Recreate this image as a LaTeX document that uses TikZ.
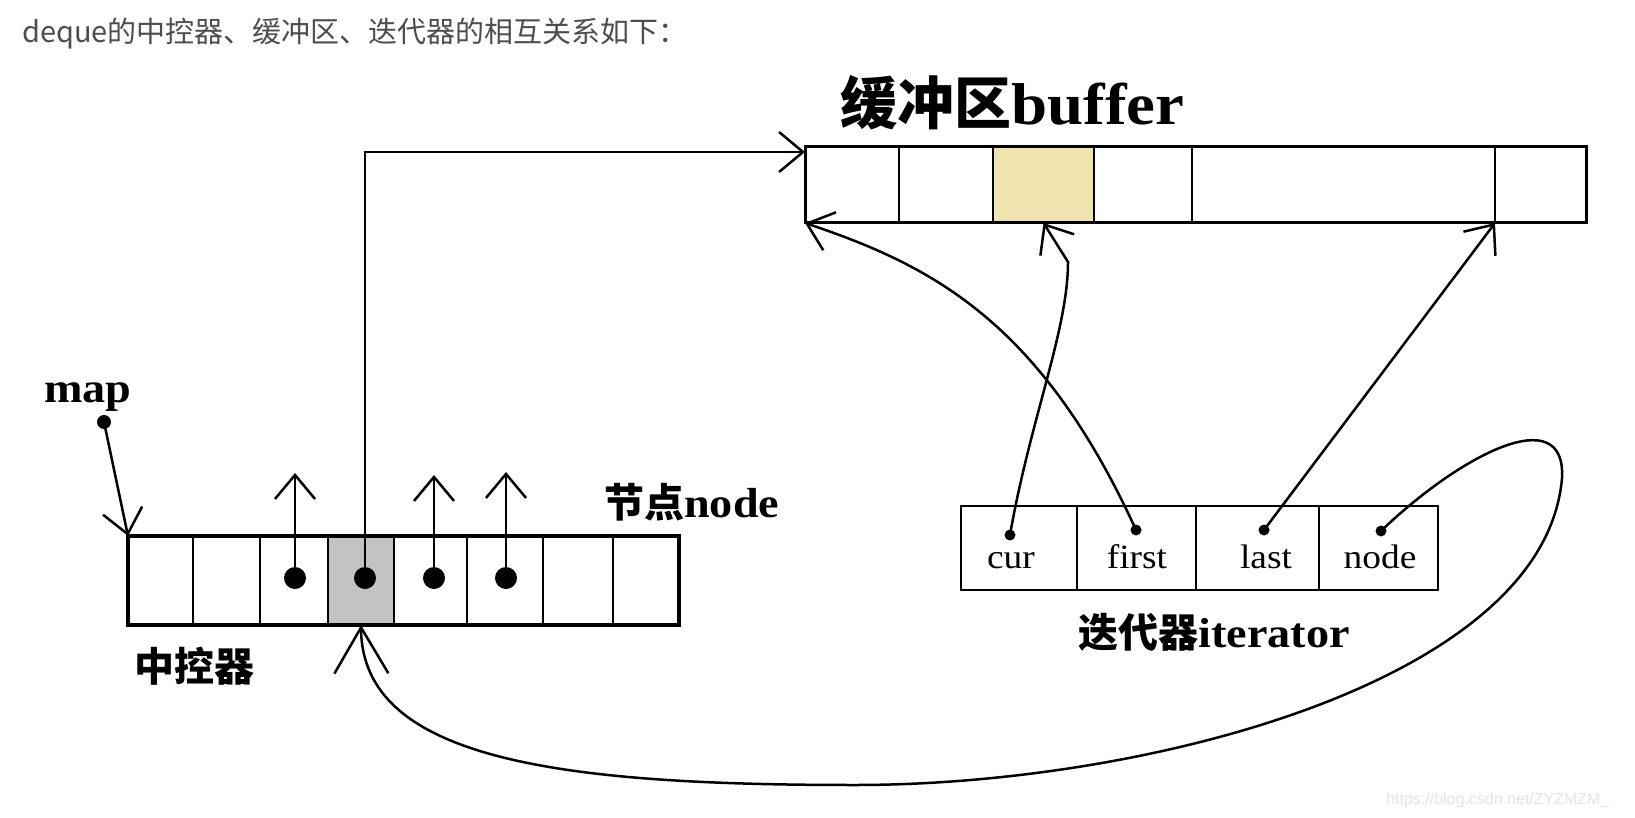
\documentclass[tikz,border=0pt]{standalone}
\usepackage{fontspec}
\setmainfont{Liberation Serif}[FakeStretch=1.1]
\setsansfont{Liberation Sans}
\newfontfamily\cjk{Noto Sans CJK SC}
\usetikzlibrary{arrows.meta}
\definecolor{capgray}{HTML}{C3C3C3}
\definecolor{bufyellow}{HTML}{EFE4B0}
\definecolor{headgray}{HTML}{4D4D4D}
\definecolor{markgray}{HTML}{E4E4E4}
\newcommand{\zh}[2][40]{{\cjk\bfseries\fontsize{#1}{#1}\selectfont #2}}

\begin{document}
\begin{tikzpicture}[
  x=1pt, y=-1pt,
  line width=2.5pt,
  >={Straight Barb[length=24pt,width=40pt]},
  bigarrow/.style={-{Straight Barb[length=46pt,width=54pt]}},
  cell/.style={rectangle, draw=black, line width=2.5pt, inner sep=0pt, outer sep=0pt},
  bigdot/.style={circle, fill=black, inner sep=0pt, minimum size=22pt},
  smalldot/.style={circle, fill=black, inner sep=0pt, minimum size=11pt},
  lbl/.style={inner sep=0pt, font=\bfseries\fontsize{42}{46}\selectfont},
  fieldlbl/.style={inner sep=0pt, anchor=base, font=\fontsize{34}{38}\selectfont},
]
\fill[white] (0,0) rectangle (1635,818);
\useasboundingbox (0,0) rectangle (1635,818);

% ===== header line =====
\node (head) [anchor=west, inner sep=0pt, text=headgray, font=\cjk\fontsize{29}{34}\selectfont]
  at (21,34) {deque的中控器、缓冲区、迭代器的相互关系如下：};

% ===== buffer =====
\foreach \i/\cx/\w/\c in {1/852/94/white, 2/946/94/white, 3/1043.5/101/bufyellow,
                          4/1143/98/white, 5/1343.5/303/white, 6/1540.5/91/white}{
  \node (b\i) [cell, fill=\c, minimum width=\w pt, minimum height=76pt] at (\cx,185) {};
}
\draw[line width=3pt] (b1.north west) rectangle (b6.south east);
\node (buftitle) [lbl, anchor=base west, font=\bfseries\fontsize{59}{64}\selectfont]
  at (839,125) {\zh[57]{缓冲区}buffer};

% ===== map (中控器) =====
\foreach \i/\cx/\w/\c in {1/160.5/65/white, 2/226.5/67/white, 3/294/68/white, 4/361/66/capgray,
                          5/430.5/73/white, 6/505/76/white, 7/578/70/white, 8/646/66/white}{
  \node (m\i) [cell, fill=\c, minimum width=\w pt, minimum height=89pt] at (\cx,580.5) {};
}
\draw[line width=4.5pt] (m1.north west) rectangle (m8.south east);
\node (maplbl) [lbl, anchor=base west] at (43,402) {map};
\node (nodelbl) [lbl, anchor=base west] at (603,517) {\zh{节点}node};
\node (ctrllbl) [lbl, anchor=base west] at (133,681) {\zh{中控器}};

% map pointer
\node (mapdot) [circle, fill=black, inner sep=0pt, minimum size=14pt] at (104,422) {};
\draw[->] (mapdot.center) -- (m1.north west);

% node pointers going up
\node (d3) [bigdot] at (295,578) {};
\node (d4) [bigdot] at (365,578) {};
\node (d5) [bigdot] at (434,578) {};
\node (d6) [bigdot] at (506,578) {};
\foreach \d/\len in {d3/105, d5/103, d6/106}
  \draw[->] (\d.center) -- ++(0,-\len);
\draw[->] (d4.center) |- ([yshift=-5pt]b1.north west);

% ===== iterator =====
\foreach \i/\cx/\w in {1/1019/116, 2/1136.5/119, 3/1257.5/123, 4/1378.5/119}{
  \node (it\i) [cell, minimum width=\w pt, minimum height=84pt] at (\cx,548) {};
}
\node (curlbl)   [fieldlbl] at (1011,568) {cur};
\node (firstlbl) [fieldlbl] at (1137,568) {first};
\node (lastlbl)  [fieldlbl] at (1266,568) {last};
\node (nodefld)  [fieldlbl] at (1380,568) {node};
\node (itlbl) [lbl, anchor=base west] at (1077,647) {\zh{迭代器}iterator};

\node (curdot)   [smalldot] at (1010,535) {};
\node (firstdot) [smalldot] at (1136,530) {};
\node (lastdot)  [smalldot] at (1264,530) {};
\node (nodedot)  [smalldot] at (1381,531) {};

% iterator -> buffer
\draw[->] (curdot.center) .. controls (1030,420) and (1068,330) .. (1068,262) -- (b3.south);
\draw[->] (firstdot.center) .. controls (1040,320) and (930,265) .. (b1.south west);
\draw[->] (lastdot.center) -- (b5.south east);

% iterator node -> map cell
\draw[bigarrow] (nodedot.center) .. controls (1460,455) and (1566,400) .. (1562,478)
  .. controls (1545,680) and (1150,785) .. (855,785)
  .. controls (560,785) and (362,760) .. (m4.south);

% watermark
\node (mark) [anchor=west, inner sep=0pt, text=markgray, font=\sffamily\fontsize{16}{18}\selectfont]
  at (1385,800) {https://blog.csdn.net/ZYZMZM\_};
\end{tikzpicture}
\end{document}
